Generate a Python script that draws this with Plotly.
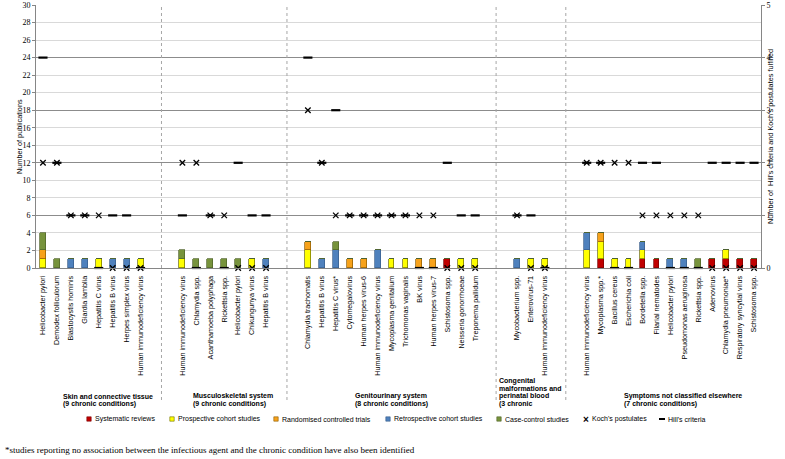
import plotly.graph_objects as go

# ---------------- data ----------------
group_labels = [
    ["Skin and connective tissue", "(9 chronic conditions)"],
    ["Musculoskeletal system", "(9 chronic conditions)"],
    ["Genitourinary system", "(8 chronic conditions)"],
    ["Congenital", "malformations and", "perinatal blood", "(3 chronic"],
    ["Symptoms not classified elsewhere", "(7 chronic conditions)"],
]
group_counts = [8, 7, 13, 3, 13]

categories = [
    # Skin
    "Helicobacter pylori", "Demodex folliculorum", "Blastocystis hominis", "Giardia lamblia",
    "Hepatitis C virus", "Hepatitis B virus", "Herpes simplex virus", "Human immunodeficiency virus",
    # Musculoskeletal
    "Human immunodeficiency virus", "Chlamydia spp.", "Acanthamoeba polyphaga", "Rickettsia spp.",
    "Helicobacter pylori", "Chikungunya virus", "Hepatitis B virus",
    # Genitourinary
    "Chlamydia trachomatis", "Hepatitis B virus", "Hepatitis C virus*", "Cytomegalovirus",
    "Human herpes virus-6", "Human immunodeficiency virus", "Mycoplasma genitalium",
    "Trichomonas vaginalis", "BK virus", "Human herpes virus-7", "Schistosoma spp.",
    "Neisseria gonorrhoeae", "Treponema pallidum",
    # Congenital
    "Mycobacterium spp.", "Enterovirus-71", "Human immunodeficiency virus",
    # Symptoms
    "Human immunodeficiency virus", "Mycoplasma spp.*", "Bacillus cereus", "Escherichia coli",
    "Bordetella spp.", "Filarial nematodes", "Helicobacter pylori", "Pseudomonas aeruginosa",
    "Rickettsia spp.", "Adenovirus", "Chlamydia pneumoniae*", "Respiratory syncytial virus",
    "Schistosoma spp.",
]

systematic_reviews = [0, 0, 0, 0, 0, 0, 0, 0,
                      0, 0, 0, 0, 0, 0, 0,
                      0, 0, 0, 0, 0, 0, 0, 0, 0, 0, 1, 0, 0,
                      0, 0, 0,
                      0, 1, 0, 0, 1, 1, 0, 0, 0, 1, 1, 1, 1]
prospective_cohort = [1, 0, 0, 0, 1, 0, 0, 1,
                      1, 0, 0, 0, 0, 1, 0,
                      2, 0, 0, 0, 0, 0, 1, 1, 0, 0, 0, 1, 1,
                      0, 1, 1,
                      2, 2, 1, 1, 1, 0, 0, 0, 0, 0, 1, 0, 0]
randomised_trials = [1, 0, 0, 0, 0, 0, 0, 0,
                     0, 0, 0, 0, 0, 0, 0,
                     1, 0, 0, 1, 1, 0, 0, 0, 1, 1, 0, 0, 0,
                     0, 0, 0,
                     0, 1, 0, 0, 0, 0, 0, 0, 0, 0, 0, 0, 0]
retrospective_cohort = [0, 0, 1, 1, 0, 1, 1, 0,
                        0, 0, 0, 0, 0, 0, 1,
                        0, 1, 2, 0, 0, 2, 0, 0, 0, 0, 0, 0, 0,
                        1, 0, 0,
                        2, 0, 0, 0, 1, 0, 1, 1, 0, 0, 0, 0, 0]
case_control = [2, 1, 0, 0, 0, 0, 0, 0,
                1, 1, 1, 1, 1, 0, 0,
                0, 0, 1, 0, 0, 0, 0, 0, 0, 0, 0, 0, 0,
                0, 0, 0,
                0, 0, 0, 0, 0, 0, 0, 0, 1, 0, 0, 0, 0]
koch_postulates = [2, 2, 1, 1, 1, 0, 0, 0,
                   2, 2, 1, 1, 0, 0, 0,
                   3, 2, 1, 1, 1, 1, 1, 1, 1, 1, 0, 0, 0,
                   1, 0, 0,
                   2, 2, 2, 2, 1, 1, 1, 1, 1, 0, 0, 0, 0]
hill_criteria = [4, 2, 1, 1, 0, 1, 1, 0,
                 1, 0, 1, 0, 2, 1, 1,
                 4, 2, 3, 1, 1, 1, 1, 1, 0, 0, 2, 1, 1,
                 1, 1, 0,
                 2, 2, 0, 0, 2, 2, 0, 0, 0, 2, 2, 2, 2]

left_ticks = list(range(0, 31, 2))
right_ticks = [0, 1, 2, 3, 4, 5]

# ---------------- positions from group structure ----------------
GAP = 2
xpos, separators = [], []
idx = 0
for g, n in enumerate(group_counts):
    if g > 0:
        separators.append(idx + (GAP - 1) / 2)
        idx += GAP
    for _ in range(n):
        xpos.append(idx)
        idx += 1
n_slots = idx

W, H = 785, 459
L, R, T, B = 36, 24, 5, 191
PW, PH = W - L - R, H - T - B


def px(p):
    return (p - L) / PW


def py(p):
    return (H - B - p) / PH


series = [
    ("Systematic reviews", systematic_reviews, "#C00000", "#7a0000"),
    ("Prospective cohort studies", prospective_cohort, "#FFFF00", "#6b6b00"),
    ("Randomised controlled trials", randomised_trials, "#F7A21B", "#8a5a00"),
    ("Retrospective cohort studies", retrospective_cohort, "#4F81BD", "#385D8A"),
    ("Case-control studies", case_control, "#77933C", "#4F6228"),
]

fig = go.Figure()
for name, vals, col, edge in series:
    fig.add_trace(go.Bar(
        x=xpos, y=vals, name=name, width=0.42,
        marker=dict(color=col, line=dict(color=edge, width=0.7)),
        showlegend=False,
    ))

fig.add_trace(go.Scatter(
    x=xpos, y=koch_postulates, yaxis="y2", mode="markers", name="Koch's postulates",
    marker=dict(symbol="x-thin", size=5.5, color="black", line=dict(color="black", width=1.3)),
    cliponaxis=False, showlegend=False,
))
fig.add_trace(go.Scatter(
    x=xpos, y=hill_criteria, yaxis="y2", mode="markers", name="Hill's criteria",
    marker=dict(symbol="line-ew", size=6.5, color="black", line=dict(color="black", width=2.2)),
    cliponaxis=False, showlegend=False,
))

serif = "Liberation Serif, Times New Roman, serif"
sans = "Liberation Sans, Arial, sans-serif"

fig.update_layout(
    width=W, height=H, autosize=False,
    margin=dict(l=L, r=R, t=T, b=B),
    paper_bgcolor="white", plot_bgcolor="white",
    barmode="stack", bargap=0,
    showlegend=False,
    font=dict(family=sans, color="black"),
    xaxis=dict(
        range=[-0.5, n_slots - 0.5],
        tickmode="array", tickvals=xpos, ticktext=categories, tickangle=-90,
        tickfont=dict(family=sans, size=7.2, color="black"),
        ticks="outside", ticklen=4, tickcolor="rgba(0,0,0,0)",
        showline=True, linecolor="#868686", linewidth=1,
        showgrid=False, zeroline=False, automargin=False,
    ),
    yaxis=dict(
        range=[0, 30], tickmode="array", tickvals=left_ticks,
        tickfont=dict(family=serif, size=8, color="black"),
        ticks="outside", ticklen=3, tickcolor="#868686",
        showline=True, linecolor="#868686", linewidth=1,
        showgrid=True, gridcolor="#d9d9d9", gridwidth=1,
        zeroline=False, automargin=False,
    ),
    yaxis2=dict(
        range=[0, 5], overlaying="y", side="right", tickmode="array", tickvals=right_ticks,
        tickfont=dict(family=serif, size=8, color="black"),
        ticks="outside", ticklen=3, tickcolor="#868686",
        showline=True, linecolor="#868686", linewidth=1,
        showgrid=True, gridcolor="#8c8c8c", gridwidth=1,
        zeroline=False, automargin=False,
    ),
)

# axis titles
fig.add_annotation(x=px(13), y=py(136.5), xref="paper", yref="paper", text="Number of publications",
                   textangle=-90, showarrow=False, font=dict(family=sans, size=7.3, color="black"))
fig.add_annotation(x=px(777), y=py(136.5), xref="paper", yref="paper",
                   text="Number of  Hill's criteria and Koch's postulates fulfilled",
                   textangle=-90, showarrow=False, font=dict(family=sans, size=7.3, color="black"))

# group separators
for s in separators:
    fig.add_shape(type="line", xref="x", yref="paper", x0=s, x1=s, y0=py(400), y1=1,
                  line=dict(color="#a6a6a6", width=1, dash="dot"))

# group labels
group_label_x = [61, 191, 353, 497, 622]
for lines, gx in zip(group_labels, group_label_x):
    n = len(lines)
    for i, line in enumerate(lines):
        yy = 404 - (n - 1 - i) * 7.8
        fig.add_annotation(x=px(gx), y=py(yy), xref="paper", yref="paper", text="<b>" + line + "</b>",
                           xanchor="left", yanchor="middle", showarrow=False,
                           font=dict(family=sans, size=7, color="black"))

# manual legend
LEG_Y = 419
leg_sq_x = [89, 172, 276, 388, 499]
for (name, vals, col, edge), sx in zip(series, leg_sq_x):
    fig.add_shape(type="rect", xref="paper", yref="paper", x0=px(sx - 2.2), x1=px(sx + 2.2),
                  y0=py(LEG_Y + 2.2), y1=py(LEG_Y - 2.2),
                  fillcolor=col, line=dict(color=edge, width=0.6))
    fig.add_annotation(x=px(sx + 4), y=py(LEG_Y), xref="paper", yref="paper", text=name,
                       xanchor="left", yanchor="middle", showarrow=False,
                       font=dict(family=sans, size=7, color="black"))
fig.add_annotation(x=px(586), y=py(LEG_Y), xref="paper", yref="paper", text="<b>×</b>",
                   xanchor="center", yanchor="middle", showarrow=False,
                   font=dict(family=sans, size=10, color="black"))
fig.add_annotation(x=px(590), y=py(LEG_Y), xref="paper", yref="paper", text="Koch's postulates",
                   xanchor="left", yanchor="middle", showarrow=False,
                   font=dict(family=sans, size=7, color="black"))
fig.add_shape(type="line", xref="paper", yref="paper", x0=px(659), x1=px(665), y0=py(LEG_Y), y1=py(LEG_Y),
              line=dict(color="black", width=2))
fig.add_annotation(x=px(666), y=py(LEG_Y), xref="paper", yref="paper", text="Hill's criteria",
                   xanchor="left", yanchor="middle", showarrow=False,
                   font=dict(family=sans, size=7, color="black"))

# footnote
fig.add_annotation(x=px(3), y=py(450), xref="paper", yref="paper",
                   text="*studies reporting no association between the infectious agent and the chronic condition have also been identified",
                   xanchor="left", yanchor="middle", showarrow=False,
                   font=dict(family=serif, size=9, color="black"))

fig.write_html("out.html", config={"displayModeBar": False},
               post_script="document.body.style.margin='0';document.body.style.overflow='hidden';")
